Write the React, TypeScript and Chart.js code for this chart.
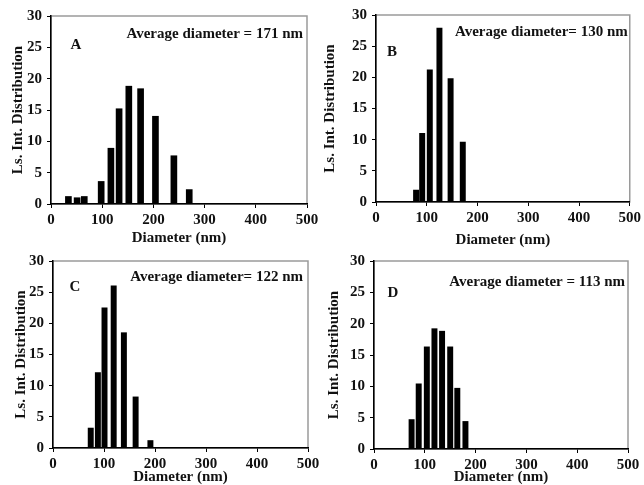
import React, { useEffect, useRef } from "react";
import { Chart, registerables } from "chart.js";

Chart.register(...registerables);

// ---------- data ----------
const xTickValues = [0, 100, 200, 300, 400, 500];
const yTickValues = [0, 5, 10, 15, 20, 25, 30];

const diameterA = [34, 51, 65, 98, 117, 133, 152, 175, 204, 240, 270];
const distributionA = [1.2, 1.0, 1.2, 3.6, 8.9, 15.2, 18.8, 18.4, 14.0, 7.7, 2.3];

const diameterB = [79, 91, 106, 125, 147, 171];
const distributionB = [1.9, 11.0, 21.2, 27.9, 19.8, 9.6];

const diameterC = [74, 88, 101, 119, 139, 162, 191];
const distributionC = [3.2, 12.1, 22.5, 26.0, 18.5, 8.2, 1.2];

const diameterD = [74, 88, 104, 119, 134, 150, 164, 180];
const distributionD = [4.7, 10.4, 16.3, 19.2, 18.8, 16.3, 9.7, 4.4];

const panelLetters = ["A", "B", "C", "D"];
const averageLabels = [
  "Average diameter = 171 nm",
  "Average diameter= 130 nm",
  "Average diameter= 122 nm",
  "Average diameter = 113 nm",
];
const xAxisTitle = "Diameter (nm)";
const yAxisTitle = "Ls. Int. Distribution";

const seriesX = [diameterA, diameterB, diameterC, diameterD];
const seriesY = [distributionA, distributionB, distributionC, distributionD];

// ---------- layout / style ----------
const FONT = "'Liberation Serif', 'Times New Roman', serif";
const CW = 644;
const CH = 520;
const TITLE_SIZE = 15;
const LH = TITLE_SIZE * 1.2;

type PanelLayout = {
  l: number; r: number; t: number; b: number;
  yTitleX: number; xTitleY: number;
  annR: number; annY: number; letX: number; letY: number;
  bar: number;
};

const layouts: PanelLayout[] = [
  { l: 51, r: 307, t: 16, b: 204, yTitleX: 18, xTitleY: 238, annR: 4, annY: 18, letX: 25, letY: 29, bar: 6 },
  { l: 376, r: 630, t: 15, b: 202, yTitleX: 330, xTitleY: 240, annR: 2, annY: 17, letX: 16, letY: 37, bar: 5.3 },
  { l: 53, r: 308, t: 261, b: 448, yTitleX: 21, xTitleY: 477, annR: 5, annY: 16, letX: 22, letY: 26, bar: 5.3 },
  { l: 374, r: 628, t: 261, b: 449, yTitleX: 334, xTitleY: 477, annR: 3, annY: 21, letX: 19, letY: 32, bar: 5.3 },
];

function Panel({ idx }: { idx: number }) {
  const ref = useRef<HTMLCanvasElement>(null);

  useEffect(() => {
    if (!ref.current) return;
    const L = layouts[idx];
    const padLeft = L.yTitleX - LH / 2;
    const yW = L.l - padLeft;
    const xH = L.xTitleY + LH / 2 - L.b;
    const padBottom = CH - (L.xTitleY + LH / 2);

    const points = seriesX[idx].map((x, i) => ({ x, y: seriesY[idx][i] }));

    const deco = {
      id: "deco" + idx,
      beforeDraw(chart: any) {
        const { ctx, chartArea } = chart;
        ctx.save();
        ctx.strokeStyle = "#9a9a9a";
        ctx.lineWidth = 1.5;
        ctx.strokeRect(chartArea.left, chartArea.top, chartArea.right - chartArea.left, chartArea.bottom - chartArea.top);
        ctx.restore();
      },
      afterDatasetsDraw(chart: any) {
        const { ctx, chartArea } = chart;
        ctx.save();
        ctx.fillStyle = "#111";
        ctx.font = `bold 15px ${FONT}`;
        ctx.textBaseline = "middle";
        ctx.textAlign = "right";
        ctx.fillText(averageLabels[idx], chartArea.right - L.annR, chartArea.top + L.annY);
        ctx.textAlign = "center";
        ctx.fillText(panelLetters[idx], chartArea.left + L.letX, chartArea.top + L.letY);
        ctx.restore();
      },
    };

    const tickFont = { family: FONT, size: 15, weight: "bold" as const, lineHeight: 1.2 };
    const titleFont = { family: FONT, size: TITLE_SIZE, weight: "bold" as const, lineHeight: 1.2 };

    const chart = new Chart(ref.current, {
      type: "bar",
      data: {
        datasets: [
          {
            data: points as any,
            backgroundColor: "#000",
            borderWidth: 0,
            barThickness: L.bar,
          },
        ],
      },
      options: {
        responsive: false,
        animation: false,
        layout: {
          padding: { left: padLeft, top: L.t, right: CW - L.r, bottom: padBottom },
        },
        plugins: {
          legend: { display: false },
          tooltip: { enabled: false },
        },
        scales: {
          x: {
            type: "linear",
            min: 0,
            max: 500,
            offset: false,
            afterFit: (s: any) => { s.height = xH; },
            afterBuildTicks: (s: any) => { s.ticks = xTickValues.map((v) => ({ value: v })); },
            ticks: { font: tickFont, color: "#111", padding: 3, maxRotation: 0, autoSkip: false },
            grid: { display: true, drawOnChartArea: false, offset: false, tickLength: 4, color: "#000", lineWidth: 1 },
            border: { display: true, color: "#000", width: 1.5 },
            title: { display: true, text: xAxisTitle, font: titleFont, color: "#111", padding: 0 },
          },
          y: {
            type: "linear",
            min: 0,
            max: 30,
            afterFit: (s: any) => { s.width = yW; },
            afterBuildTicks: (s: any) => { s.ticks = yTickValues.map((v) => ({ value: v })); },
            ticks: { font: tickFont, color: "#111", padding: 5 },
            grid: { display: true, drawOnChartArea: false, tickLength: 4, color: "#000", lineWidth: 1 },
            border: { display: true, color: "#000", width: 1.5 },
            title: { display: true, text: yAxisTitle, font: titleFont, color: "#111", padding: 0 },
          },
        },
      },
      plugins: [deco],
    });
    return () => chart.destroy();
  }, [idx]);

  return (
    <canvas
      ref={ref}
      width={CW}
      height={CH}
      style={{ position: "absolute", left: 0, top: 0, width: CW, height: CH }}
    />
  );
}

export default function App() {
  return (
    <div
      style={{
        position: "fixed",
        left: 0,
        top: 0,
        width: CW,
        height: 485,
        overflow: "hidden",
        background: "#fff",
      }}
    >
      {[0, 1, 2, 3].map((i) => (
        <Panel key={i} idx={i} />
      ))}
    </div>
  );
}
